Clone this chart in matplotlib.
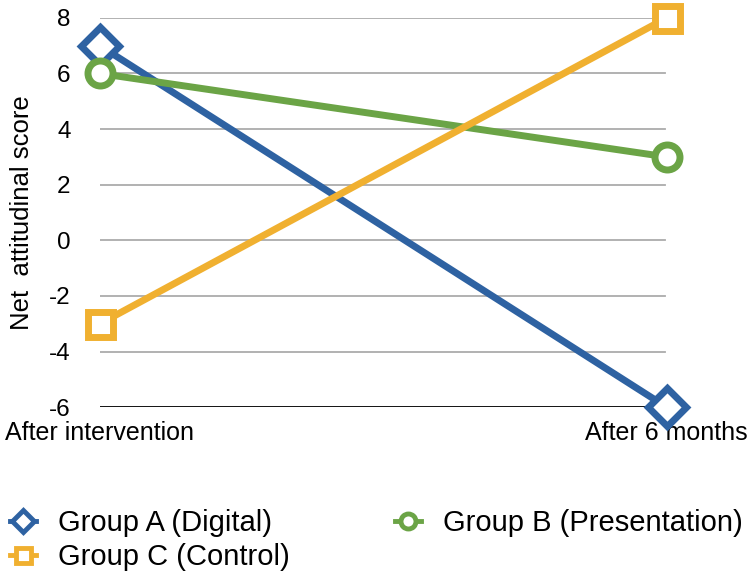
import matplotlib
matplotlib.use('Agg')
import matplotlib.pyplot as plt

# -[Dati]------------------------------------------------------------------
labels  = ["After intervention", "After 6 months"]
group_a = [7, -6]   # Digital
group_b = [6, 3]    # Presentation
group_c = [-3, 8]   # Control
yticks  = [-6, -4, -2, 0, 2, 4, 6, 8]

plt.rcParams['font.family'] = ['Liberation Sans', 'DejaVu Sans']

fig = plt.figure(figsize=(7.5, 5.76), dpi=100)
ax = fig.add_axes([0.133, 0.293, 0.756, 0.676])

xx = [0, 1]
style = dict(lw=5, mew=5, mfc="white", clip_on=False, zorder=3)
hA, = ax.plot(xx, group_a, "-D", color="#2E62A2", ms=19, label="Group A (Digital)", **style)
hB, = ax.plot(xx, group_b, "-o", color="#6BA446", ms=18, label="Group B (Presentation)", **style)
hC, = ax.plot(xx, group_c, "-s", color="#F0B030", ms=18, label="Group C (Control)", **style)

ax.set_xlim(0, 1)
ax.set_ylim(-6, 8)
ax.set_yticks(yticks)
ax.set_yticklabels([str(v) for v in yticks], fontsize=17.5)
ax.set_xticks(xx)
ax.set_xticklabels(labels, fontsize=18)
ax.tick_params(axis='y', length=0, pad=21)
ax.tick_params(axis='x', length=0, pad=10)
for v in yticks[1:]:
    ax.axhline(v, color="#ABABAB", lw=1.3, xmax=0.997, zorder=1)
ax.axhline(-6, color="black", lw=1.3, xmax=0.997, zorder=2)
for s in ax.spines.values():
    s.set_visible(False)
ax.set_ylabel("Net  attitudinal score", fontsize=18.5, labelpad=11)

leg = fig.legend(handles=[hA, hC, hB], ncol=2, loc="upper left",
                 bbox_to_anchor=(0.013, 0.116), frameon=False, fontsize=21,
                 markerscale=0.6, handlelength=0.9, handletextpad=0.75,
                 columnspacing=3.6, labelspacing=0.2, borderaxespad=0,
                 borderpad=0)
for ln in leg.get_lines():
    ln.set_linewidth(3.5)
    ln.set_markeredgewidth(3.5)

fig.savefig("out.png", dpi=100)
